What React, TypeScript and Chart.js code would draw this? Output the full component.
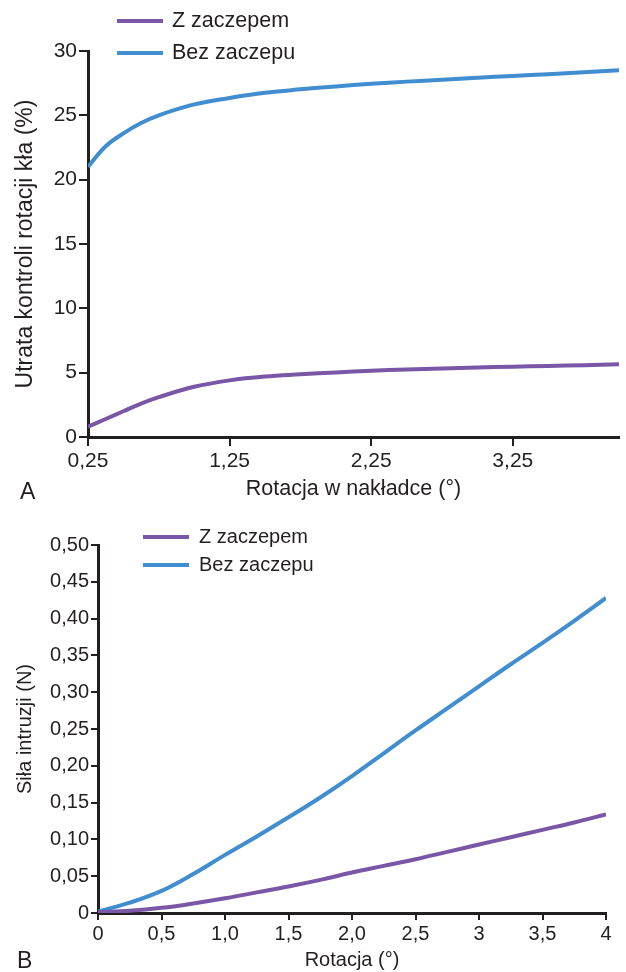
import { useEffect, useRef } from "react";
import { Chart, registerables } from "chart.js";

Chart.register(...registerables);

// ---------- data ----------
const SERIES_LABELS = ["Z zaczepem", "Bez zaczepu"];

// Panel A
const A_X = [0.25, 0.375, 0.5, 0.625, 0.75, 1, 1.25, 1.5, 1.75, 2, 2.25, 2.5, 2.75, 3, 3.25, 3.5, 3.75, 4];
const A_WITH = [0.8, 1.4, 2.0, 2.6, 3.1, 3.9, 4.4, 4.7, 4.87, 5.02, 5.15, 5.25, 5.33, 5.4, 5.46, 5.52, 5.58, 5.65];
const A_WITHOUT = [21.0, 22.6, 23.6, 24.4, 25.0, 25.85, 26.35, 26.75, 27.02, 27.25, 27.45, 27.62, 27.77, 27.92, 28.06, 28.2, 28.35, 28.5];
const A_X_TICKS = [0.25, 1.25, 2.25, 3.25];
const A_X_TICK_LABELS = ["0,25", "1,25", "2,25", "3,25"];
const A_Y_TICKS = [0, 5, 10, 15, 20, 25, 30];
const A_Y_TICK_LABELS = ["0", "5", "10", "15", "20", "25", "30"];
const A_X_TITLE = "Rotacja w nakładce (°)";
const A_Y_TITLE = "Utrata kontroli rotacji kła (%)";
const A_PANEL = "A";

// Panel B
const B_X = [0, 0.25, 0.5, 0.75, 1, 1.25, 1.5, 1.75, 2, 2.25, 2.5, 2.75, 3, 3.25, 3.5, 3.75, 4];
const B_WITH = [0.001, 0.003, 0.007, 0.013, 0.02, 0.028, 0.036, 0.045, 0.055, 0.064, 0.073, 0.083, 0.093, 0.103, 0.113, 0.123, 0.134];
const B_WITHOUT = [0.002, 0.014, 0.03, 0.053, 0.079, 0.104, 0.13, 0.157, 0.186, 0.217, 0.248, 0.278, 0.308, 0.338, 0.367, 0.397, 0.428];
const B_X_TICKS = [0, 0.5, 1, 1.5, 2, 2.5, 3, 3.5, 4];
const B_X_TICK_LABELS = ["0", "0,5", "1,0", "1,5", "2,0", "2,5", "3", "3,5", "4"];
const B_Y_TICKS = [0, 0.05, 0.1, 0.15, 0.2, 0.25, 0.3, 0.35, 0.4, 0.45, 0.5];
const B_Y_TICK_LABELS = ["0", "0,05", "0,10", "0,15", "0,20", "0,25", "0,30", "0,35", "0,40", "0,45", "0,50"];
const B_X_TITLE = "Rotacja (°)";
const B_Y_TITLE = "Siła intruzji (N)";
const B_PANEL = "B";

// ---------- style ----------
const PURPLE = "#7a56a6";
const BLUE = "#408dcf";
const INK = "#231f20";
const FONT = "'Liberation Sans', Arial, Helvetica, sans-serif";

const decorPlugin = {
  id: "decor",
  afterDraw(chart: any, _args: any, o: any) {
    const ctx = chart.ctx;
    ctx.save();
    ctx.font = `${o.fontSize}px ${FONT}`;
    ctx.textBaseline = "middle";
    ctx.textAlign = "left";
    chart.data.datasets.forEach((ds: any, i: number) => {
      const y = o.legendY + i * o.legendGap;
      ctx.strokeStyle = ds.borderColor;
      ctx.lineWidth = o.legendLineWidth;
      ctx.lineCap = "butt";
      ctx.beginPath();
      ctx.moveTo(o.legendX, y);
      ctx.lineTo(o.legendX + o.legendLen, y);
      ctx.stroke();
      ctx.fillStyle = INK;
      ctx.fillText(ds.label, o.legendX + o.legendLen + o.legendTextGap, y);
    });
    ctx.font = `${o.panelSize}px ${FONT}`;
    ctx.textBaseline = "alphabetic";
    ctx.fillStyle = INK;
    ctx.fillText(o.panel, o.panelX, o.panelY);
    ctx.restore();
  },
};

function axis(opts: {
  min: number;
  max: number;
  ticks: number[];
  labels: string[];
  size?: number;
  tickFont: number;
  tickLength: number;
  tickPadding: number;
  title: string;
  titleFont: number;
  titlePadding: any;
  isX: boolean;
}) {
  return {
    type: "linear",
    min: opts.min,
    max: opts.max,
    afterBuildTicks: (s: any) => {
      s.ticks = opts.ticks.map((v) => ({ value: v }));
    },
    afterFit: (s: any) => {
      if (opts.isX) s.height = opts.size;
      else s.width = opts.size;
    },
    ticks: {
      autoSkip: false,
      maxRotation: 0,
      minRotation: 0,
      color: INK,
      padding: opts.tickPadding,
      font: { family: FONT, size: opts.tickFont },
      callback: (_v: any, i: number) => opts.labels[i],
    },
    grid: {
      drawOnChartArea: false,
      drawTicks: true,
      tickLength: opts.tickLength,
      tickColor: INK,
      tickWidth: 2,
      color: INK,
      lineWidth: 2,
    },
    border: { display: true, color: INK, width: 3 },
    title: {
      display: true,
      text: opts.title,
      color: INK,
      font: { family: FONT, size: opts.titleFont },
      padding: opts.titlePadding,
    },
  };
}

function lineDataset(label: string, xs: number[], ys: number[], color: string, width: number) {
  return {
    label,
    data: xs.map((x, i) => ({ x, y: ys[i] })),
    borderColor: color,
    backgroundColor: color,
    borderWidth: width,
    pointRadius: 0,
    pointHoverRadius: 0,
    tension: 0.4,
    fill: false,
  };
}

function useChart(ref: any, config: any) {
  useEffect(() => {
    const chart = new Chart(ref.current, config);
    return () => chart.destroy();
  }, []);
}

export default function App() {
  const refA = useRef<HTMLCanvasElement>(null);
  const refB = useRef<HTMLCanvasElement>(null);

  useChart(refA, {
    type: "line",
    data: {
      datasets: [
        lineDataset(SERIES_LABELS[0], A_X, A_WITH, PURPLE, 4),
        lineDataset(SERIES_LABELS[1], A_X, A_WITHOUT, BLUE, 4),
      ],
    },
    options: {
      responsive: false,
      maintainAspectRatio: false,
      animation: false,
      events: [],
      layout: { padding: { top: 51, right: 7, left: 0, bottom: 0 } },
      plugins: {
        legend: { display: false },
        tooltip: { enabled: false },
        decor: {
          fontSize: 21.5,
          legendX: 117,
          legendLen: 46,
          legendTextGap: 9,
          legendY: 21,
          legendGap: 32,
          legendLineWidth: 4,
          panel: A_PANEL,
          panelSize: 23,
          panelX: 20,
          panelY: 499,
        },
      },
      scales: {
        x: axis({
          min: 0.25, max: 4, ticks: A_X_TICKS, labels: A_X_TICK_LABELS, size: 67,
          tickFont: 21, tickLength: 9, tickPadding: 3,
          title: A_X_TITLE, titleFont: 21.5, titlePadding: { top: 0, bottom: 2 }, isX: true,
        }),
        y: axis({
          min: 0, max: 30, ticks: A_Y_TICKS, labels: A_Y_TICK_LABELS, size: 88,
          tickFont: 21, tickLength: 9, tickPadding: 2,
          title: A_Y_TITLE, titleFont: 23, titlePadding: { top: 12, bottom: 0 }, isX: false,
        }),
      },
    },
    plugins: [decorPlugin],
  });

  useChart(refB, {
    type: "line",
    data: {
      datasets: [
        lineDataset(SERIES_LABELS[0], B_X, B_WITH, PURPLE, 4),
        lineDataset(SERIES_LABELS[1], B_X, B_WITHOUT, BLUE, 4),
      ],
    },
    options: {
      responsive: false,
      maintainAspectRatio: false,
      animation: false,
      events: [],
      layout: { padding: { top: 41, right: 20, left: 0, bottom: 0 } },
      plugins: {
        legend: { display: false },
        tooltip: { enabled: false },
        decor: {
          fontSize: 20,
          legendX: 143,
          legendLen: 46,
          legendTextGap: 10,
          legendY: 33,
          legendGap: 28,
          legendLineWidth: 4,
          panel: B_PANEL,
          panelSize: 23,
          panelX: 17,
          panelY: 464,
        },
      },
      scales: {
        x: axis({
          min: 0, max: 4, ticks: B_X_TICKS, labels: B_X_TICK_LABELS, size: 59,
          tickFont: 20, tickLength: 7, tickPadding: 2,
          title: B_X_TITLE, titleFont: 20, titlePadding: { top: 0, bottom: 0 }, isX: true,
        }),
        y: axis({
          min: 0, max: 0.5, ticks: B_Y_TICKS, labels: B_Y_TICK_LABELS, size: 98,
          tickFont: 20, tickLength: 7, tickPadding: 2,
          title: B_Y_TITLE, titleFont: 20, titlePadding: { top: 13, bottom: 0 }, isX: false,
        }),
      },
    },
    plugins: [decorPlugin],
  });

  return (
    <div style={{ position: "absolute", left: 0, top: 0, width: 626, height: 972, background: "#fff" }}>
      <canvas ref={refA} width={626} height={504} style={{ display: "block", width: 626, height: 504 }} />
      <canvas ref={refB} width={626} height={468} style={{ display: "block", width: 626, height: 468 }} />
    </div>
  );
}
